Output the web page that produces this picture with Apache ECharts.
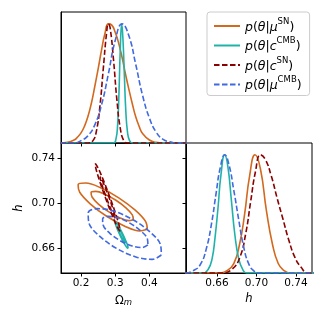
<!DOCTYPE html>
<html>
<head>
<meta charset="utf-8">
<script src="https://cdn.jsdelivr.net/npm/echarts@6.0.0/dist/echarts.min.js"></script>
<style>
  html, body { margin: 0; padding: 0; background: #fff; }
  #chart { width: 324px; height: 324px; }
</style>
</head>
<body>
<div id="chart"></div>
<script>
// tick labels
const omegaTicks = [0.2, 0.3, 0.4];
const hTicks = [0.66, 0.70, 0.74];
const densityTicks = [0.21, 0.59, 0.97]; // unlabelled ticks on the h marginal

// 1D marginals of Omega_m  [Omega_m, p / p_max]
const omegaMuSN = [[0.14,0],[0.16,0.005],[0.18,0.025],[0.19,0.05],[0.20,0.085],[0.21,0.14],[0.22,0.22],[0.23,0.33],[0.24,0.47],[0.25,0.62],[0.26,0.78],[0.27,0.92],[0.28,1.0],[0.29,0.99],[0.30,0.93],[0.31,0.84],[0.32,0.72],[0.33,0.58],[0.34,0.45],[0.35,0.33],[0.36,0.22],[0.37,0.14],[0.38,0.08],[0.40,0.025],[0.42,0.005],[0.44,0],[0.51,0]];
const omegaCCMB = [[0.14,0],[0.295,0],[0.302,0.03],[0.307,0.15],[0.311,0.42],[0.315,0.80],[0.319,1.0],[0.323,0.85],[0.327,0.55],[0.331,0.27],[0.336,0.09],[0.342,0.02],[0.35,0],[0.51,0]];
const omegaCSN = [[0.14,0],[0.22,0],[0.235,0.02],[0.245,0.10],[0.255,0.30],[0.265,0.62],[0.275,0.93],[0.28,1.0],[0.285,0.97],[0.295,0.70],[0.305,0.36],[0.315,0.12],[0.325,0.02],[0.335,0],[0.51,0]];
const omegaMuCMB = [[0.14,0],[0.18,0],[0.20,0.02],[0.22,0.06],[0.24,0.15],[0.26,0.32],[0.28,0.58],[0.30,0.86],[0.32,1.0],[0.34,0.90],[0.36,0.66],[0.38,0.40],[0.40,0.21],[0.42,0.09],[0.44,0.03],[0.46,0.01],[0.48,0],[0.51,0]];

// 1D marginals of h  [h, p / p_max]
const hMuSN = [[0.62,0],[0.662,0],[0.670,0.02],[0.677,0.08],[0.683,0.25],[0.688,0.50],[0.693,0.82],[0.6985,1.0],[0.704,0.88],[0.710,0.53],[0.716,0.25],[0.722,0.08],[0.728,0.02],[0.734,0],[0.76,0]];
const hCCMB = [[0.62,0],[0.646,0],[0.651,0.03],[0.655,0.12],[0.658,0.30],[0.661,0.55],[0.664,0.83],[0.6678,1.0],[0.671,0.90],[0.6745,0.62],[0.678,0.33],[0.682,0.12],[0.686,0.03],[0.690,0],[0.76,0]];
const hCSN = [[0.62,0],[0.665,0],[0.675,0.03],[0.683,0.13],[0.689,0.33],[0.694,0.60],[0.699,0.86],[0.704,1.0],[0.709,0.96],[0.715,0.82],[0.721,0.63],[0.727,0.45],[0.733,0.27],[0.739,0.13],[0.745,0.05],[0.752,0],[0.76,0]];
const hMuCMB = [[0.62,0],[0.628,0],[0.636,0.02],[0.643,0.07],[0.649,0.20],[0.6545,0.42],[0.659,0.67],[0.6635,0.90],[0.6678,1.0],[0.672,0.92],[0.677,0.70],[0.682,0.45],[0.687,0.22],[0.692,0.08],[0.697,0.02],[0.703,0],[0.76,0]];

// 2D contours (68% and 95%)  [Omega_m, h]
const muSN95 = [[0.3938,0.6766],[0.3714,0.6751],[0.3280,0.6794],[0.2750,0.6882],[0.2268,0.6993],[0.1962,0.7095],[0.1915,0.7163],[0.2139,0.7177],[0.2573,0.7135],[0.3103,0.7046],[0.3585,0.6936],[0.3891,0.6834]];
const muSN68 = [[0.3529,0.6852],[0.3391,0.6843],[0.3126,0.6869],[0.2803,0.6923],[0.2509,0.6990],[0.2323,0.7053],[0.2295,0.7094],[0.2432,0.7103],[0.2697,0.7078],[0.3021,0.7024],[0.3314,0.6957],[0.3500,0.6894]];
const cCMB95 = [[0.3375,0.6595],[0.3330,0.6608],[0.3246,0.6650],[0.3146,0.6710],[0.3056,0.6771],[0.3001,0.6817],[0.2995,0.6836],[0.3041,0.6823],[0.3125,0.6781],[0.3225,0.6721],[0.3315,0.6660],[0.3370,0.6614]];
const cCMB68 = [[0.3299,0.6643],[0.3272,0.6651],[0.3222,0.6676],[0.3161,0.6712],[0.3108,0.6749],[0.3075,0.6776],[0.3071,0.6788],[0.3099,0.6780],[0.3149,0.6755],[0.3209,0.6719],[0.3263,0.6682],[0.3296,0.6655]];
const cSN95 = [[0.3141,0.6748],[0.3063,0.6785],[0.2908,0.6893],[0.2719,0.7042],[0.2546,0.7194],[0.2436,0.7306],[0.2417,0.7350],[0.2496,0.7313],[0.2651,0.7205],[0.2840,0.7056],[0.3013,0.6904],[0.3123,0.6792]];
const cSN68 = [[0.3001,0.6865],[0.2953,0.6888],[0.2859,0.6954],[0.2744,0.7045],[0.2638,0.7137],[0.2570,0.7206],[0.2558,0.7233],[0.2606,0.7210],[0.2700,0.7144],[0.2815,0.7053],[0.2921,0.6960],[0.2989,0.6892]];
const muCMB95 = [[0.4349,0.6538],[0.4084,0.6499],[0.3604,0.6521],[0.3037,0.6597],[0.2534,0.6708],[0.2231,0.6823],[0.2210,0.6911],[0.2474,0.6950],[0.2954,0.6928],[0.3522,0.6851],[0.4024,0.6741],[0.4327,0.6626]];
const muCMB68 = [[0.3956,0.6627],[0.3794,0.6604],[0.3498,0.6618],[0.3147,0.6665],[0.2836,0.6733],[0.2647,0.6804],[0.2632,0.6858],[0.2794,0.6881],[0.3090,0.6867],[0.3441,0.6819],[0.3753,0.6751],[0.3941,0.6681]];

const colors = { muSN: '#d2691e', cCMB: '#20b2aa', cSN: '#8b0000', muCMB: '#4169e1' };
const dashed = { muSN: false, cCMB: false, cSN: true, muCMB: true };
const legendText = {
  muSN: '{i|p}{n|(}{i|θ}{n||}{i|μ}{s|SN}{n|)}',
  cCMB: '{i|p}{n|(}{i|θ}{n||}{i|c}{s|CMB}{n|)}',
  cSN: '{i|p}{n|(}{i|θ}{n||}{i|c}{s|SN}{n|)}',
  muCMB: '{i|p}{n|(}{i|θ}{n||}{i|μ}{s|CMB}{n|)}'
};

const FONT = 'DejaVu Sans';

const line = (key, data, xi, yi, closed) => ({
  name: key,
  type: 'line',
  xAxisIndex: xi,
  yAxisIndex: yi,
  data: closed ? data.concat([data[0]]) : data,
  symbol: 'none',
  smooth: closed ? 0.35 : 0.5,
  silent: true,
  lineStyle: { color: colors[key], width: 1.6, type: dashed[key] ? [5.5, 2.5] : 'solid' },
  itemStyle: { color: colors[key] }
});

const tickStyle = { show: true, length: 3.5, lineStyle: { color: '#000', width: 1 } };
const labelStyle = { color: '#000', fontFamily: FONT, fontSize: 10.5 };
const nameRich = {
  o: { fontFamily: FONT, fontSize: 11.5, color: '#000', lineHeight: 16, verticalAlign: 'bottom' },
  m: { fontFamily: FONT, fontStyle: 'italic', fontSize: 8.5, color: '#000', lineHeight: 8, padding: [8, 0, 0, 0], verticalAlign: 'bottom' },
  h: { fontFamily: FONT, fontStyle: 'italic', fontSize: 11.5, color: '#000' }
};

const chart = echarts.init(document.getElementById('chart'), null, { renderer: 'canvas' });

chart.setOption({
  animation: false,
  backgroundColor: '#fff',
  grid: [
    { left: 61, top: 12, width: 125, height: 131, show: true, borderColor: '#000', borderWidth: 1, backgroundColor: 'transparent' },
    { left: 61, top: 143, width: 125, height: 130, show: true, borderColor: '#000', borderWidth: 1, backgroundColor: 'transparent' },
    { left: 186, top: 143, width: 126, height: 130, show: true, borderColor: '#000', borderWidth: 1, backgroundColor: 'transparent' }
  ],
  xAxis: [
    { gridIndex: 0, type: 'value', min: 0.1415, max: 0.507,
      axisLine: { lineStyle: { color: '#000' } }, splitLine: { show: false },
      axisTick: Object.assign({ customValues: omegaTicks }, tickStyle),
      axisLabel: { show: false } },
    { gridIndex: 1, type: 'value', min: 0.1415, max: 0.507,
      axisLine: { lineStyle: { color: '#000' } }, splitLine: { show: false },
      axisTick: Object.assign({ customValues: omegaTicks }, tickStyle),
      axisLabel: Object.assign({ customValues: omegaTicks, margin: 5, formatter: v => v.toFixed(1) }, labelStyle),
      name: '{o|Ω}{m|m}', nameLocation: 'middle', nameGap: 17,
      nameTextStyle: { rich: nameRich } },
    { gridIndex: 2, type: 'value', min: 0.6286, max: 0.7562,
      axisLine: { lineStyle: { color: '#000' } }, splitLine: { show: false },
      axisTick: Object.assign({ customValues: hTicks }, tickStyle),
      axisLabel: Object.assign({ customValues: hTicks, margin: 5, formatter: v => v.toFixed(2) }, labelStyle),
      name: '{h|h}', nameLocation: 'middle', nameGap: 20,
      nameTextStyle: { rich: nameRich } }
  ],
  yAxis: [
    { gridIndex: 0, type: 'value', min: 0, max: 1.1,
      axisLine: { show: true, lineStyle: { color: '#000' } }, splitLine: { show: false },
      axisTick: { show: false }, axisLabel: { show: false } },
    { gridIndex: 1, type: 'value', min: 0.6378, max: 0.7533,
      axisLine: { show: true, lineStyle: { color: '#000' } }, splitLine: { show: false },
      axisTick: Object.assign({ customValues: hTicks }, tickStyle),
      axisLabel: Object.assign({ customValues: hTicks, margin: 6, formatter: v => v.toFixed(2) }, labelStyle),
      name: '{h|h}', nameLocation: 'middle', nameGap: 36, nameRotate: 90,
      nameTextStyle: { rich: nameRich } },
    { gridIndex: 2, type: 'value', min: 0, max: 1.1,
      axisLine: { show: true, lineStyle: { color: '#000' } }, splitLine: { show: false },
      axisTick: Object.assign({ customValues: densityTicks }, tickStyle),
      axisLabel: { show: false } }
  ],
  legend: {
    orient: 'vertical',
    left: 207, top: 12,
    padding: [5, 8, 3, 6],
    itemWidth: 26, itemHeight: 10, itemGap: 2.5, itemTextGap: 9,
    borderColor: '#cccccc', borderWidth: 1, borderRadius: 3,
    backgroundColor: '#fff',
    itemStyle: { opacity: 0 },
    data: ['muSN', 'cCMB', 'cSN', 'muCMB'],
    formatter: name => legendText[name],
    textStyle: {
      rich: {
        i: { fontFamily: FONT, fontStyle: 'italic', fontSize: 12.5, color: '#000', lineHeight: 16, verticalAlign: 'bottom' },
        n: { fontFamily: FONT, fontSize: 12.5, color: '#000', lineHeight: 16, verticalAlign: 'bottom' },
        s: { fontFamily: FONT, fontSize: 8.5, color: '#000', lineHeight: 8, padding: [0, 0, 8, 0], verticalAlign: 'bottom' }
      }
    }
  },
  series: [
    line('muSN', omegaMuSN, 0, 0),
    line('cCMB', omegaCCMB, 0, 0),
    line('cSN', omegaCSN, 0, 0),
    line('muCMB', omegaMuCMB, 0, 0),

    line('muSN', muSN95, 1, 1, true),
    line('muSN', muSN68, 1, 1, true),
    line('cCMB', cCMB95, 1, 1, true),
    line('cCMB', cCMB68, 1, 1, true),
    line('cSN', cSN95, 1, 1, true),
    line('cSN', cSN68, 1, 1, true),
    line('muCMB', muCMB95, 1, 1, true),
    line('muCMB', muCMB68, 1, 1, true),

    line('muSN', hMuSN, 2, 2),
    line('cCMB', hCCMB, 2, 2),
    line('cSN', hCSN, 2, 2),
    line('muCMB', hMuCMB, 2, 2)
  ]
});
</script>
</body>
</html>
